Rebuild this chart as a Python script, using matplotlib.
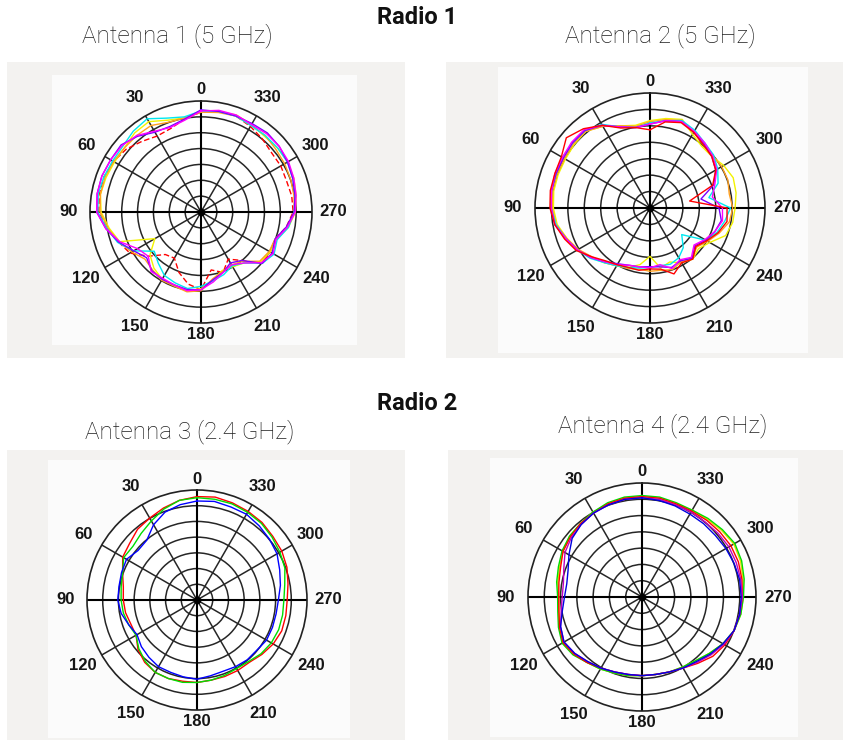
import numpy as np
import matplotlib
matplotlib.use("Agg")
import matplotlib.pyplot as plt
from matplotlib.patches import Rectangle

W, H = 843, 744

# ---------------- data ----------------
ANGLES = list(range(0, 360, 10))          # degrees, counter-clockwise from top
TICK_ANGLES = [0, 30, 60, 90, 120, 150, 180, 210, 240, 270, 300, 330]
TICK_LABELS = ["0", "30", "60", "90", "120", "150", "180", "210", "240", "270", "300", "330"]
N_RINGS = 7

GROUP_TITLES = ["Radio 1", "Radio 2"]
PANEL_TITLES = ["Antenna 1 (5 GHz)", "Antenna 2 (5 GHz)", "Antenna 3 (2.4 GHz)", "Antenna 4 (2.4 GHz)"]

# Antenna 1 (5 GHz) - normalised radius (outer ring = 1)
A1_RED = [0.90,0.85,0.80,0.79,0.83,0.88,0.91,0.93,0.93,0.92,0.86,0.79,0.74,0.62,0.50,0.48,0.58,0.66,
          0.70,0.53,0.58,0.49,0.57,0.72,0.72,0.71,0.78,0.83,0.83,0.82,0.83,0.83,0.86,0.89,0.92,0.92]
A1_YELLOW = [0.90,0.86,0.88,0.94,0.93,0.90,0.90,0.91,0.92,0.90,0.84,0.78,0.48,0.60,0.66,0.70,0.70,0.72,
             0.69,0.62,0.56,0.57,0.60,0.70,0.72,0.72,0.80,0.85,0.87,0.89,0.90,0.90,0.89,0.91,0.93,0.92]
A1_ORANGE = [0.90,0.86,0.86,0.90,0.90,0.90,0.91,0.92,0.92,0.91,0.85,0.79,0.72,0.66,0.68,0.71,0.71,0.73,
             0.71,0.61,0.57,0.55,0.58,0.69,0.71,0.71,0.79,0.84,0.85,0.86,0.87,0.88,0.90,0.90,0.92,0.91]
A1_CYAN = [0.91,0.87,0.90,0.97,0.95,0.92,0.92,0.93,0.94,0.93,0.86,0.80,0.70,0.55,0.60,0.66,0.68,0.70,
           0.67,0.63,0.60,0.56,0.60,0.72,0.76,0.73,0.80,0.84,0.86,0.88,0.90,0.90,0.90,0.90,0.92,0.92]
A1_PURPLE = [0.92,0.85,0.82,0.83,0.89,0.94,0.94,0.95,0.95,0.94,0.87,0.79,0.70,0.64,0.69,0.70,0.70,0.71,
             0.70,0.62,0.58,0.53,0.57,0.72,0.74,0.71,0.78,0.84,0.86,0.88,0.90,0.92,0.93,0.92,0.92,0.92]
A1_MAGENTA = [0.91,0.84,0.81,0.84,0.90,0.93,0.94,0.95,0.95,0.94,0.87,0.78,0.66,0.62,0.70,0.69,0.70,0.72,
              0.70,0.64,0.58,0.55,0.60,0.71,0.75,0.72,0.79,0.85,0.87,0.89,0.91,0.92,0.92,0.91,0.93,0.93]

# Antenna 2 (5 GHz)
A2_RED = [0.68,0.71,0.74,0.83,0.90,0.95,0.89,0.88,0.88,0.87,0.84,0.79,0.74,0.66,0.60,0.57,0.55,0.55,
          0.53,0.54,0.61,0.55,0.58,0.52,0.57,0.63,0.68,0.67,0.35,0.58,0.66,0.70,0.72,0.76,0.79,0.76]
A2_YELLOW = [0.76,0.73,0.76,0.82,0.87,0.86,0.85,0.85,0.85,0.84,0.82,0.77,0.73,0.67,0.62,0.58,0.55,0.50,
             0.42,0.53,0.50,0.55,0.58,0.55,0.60,0.70,0.73,0.74,0.76,0.77,0.74,0.70,0.70,0.74,0.82,0.79]
A2_ORANGE = [0.75,0.72,0.76,0.82,0.87,0.87,0.86,0.86,0.86,0.85,0.83,0.77,0.72,0.66,0.62,0.58,0.56,0.54,
             0.55,0.55,0.57,0.54,0.57,0.53,0.58,0.64,0.70,0.72,0.70,0.72,0.72,0.71,0.72,0.76,0.81,0.78]
A2_CYAN = [0.74,0.71,0.75,0.84,0.88,0.88,0.88,0.87,0.87,0.86,0.83,0.78,0.73,0.68,0.62,0.58,0.55,0.53,
           0.52,0.51,0.52,0.50,0.45,0.36,0.56,0.62,0.66,0.70,0.52,0.63,0.68,0.72,0.74,0.78,0.81,0.77]
A2_PURPLE = [0.73,0.71,0.75,0.83,0.88,0.88,0.87,0.87,0.87,0.86,0.84,0.78,0.73,0.67,0.61,0.56,0.53,0.52,
             0.51,0.52,0.55,0.53,0.57,0.51,0.56,0.60,0.63,0.60,0.45,0.59,0.66,0.70,0.73,0.76,0.80,0.77]
A2_MAGENTA = [0.73,0.71,0.75,0.83,0.89,0.89,0.88,0.88,0.87,0.86,0.84,0.78,0.73,0.67,0.61,0.57,0.53,0.52,
              0.52,0.50,0.56,0.52,0.56,0.50,0.55,0.60,0.64,0.63,0.55,0.60,0.67,0.71,0.74,0.77,0.80,0.77]

# Antenna 3 (2.4 GHz)
A3_RED = [0.94,0.92,0.89,0.86,0.84,0.80,0.78,0.72,0.68,0.67,0.66,0.64,0.64,0.70,0.74,0.76,0.76,0.75,
          0.75,0.74,0.74,0.74,0.74,0.77,0.80,0.82,0.82,0.82,0.84,0.87,0.89,0.90,0.92,0.93,0.94,0.95]
A3_GREEN = [0.93,0.92,0.88,0.83,0.79,0.76,0.77,0.72,0.70,0.69,0.68,0.66,0.64,0.69,0.73,0.76,0.76,0.76,
            0.75,0.74,0.73,0.72,0.73,0.76,0.78,0.79,0.79,0.79,0.81,0.85,0.87,0.89,0.91,0.92,0.93,0.93]
A3_BLUE = [0.90,0.88,0.85,0.79,0.71,0.70,0.74,0.73,0.72,0.72,0.70,0.66,0.63,0.66,0.68,0.70,0.70,0.71,
           0.72,0.70,0.69,0.70,0.71,0.71,0.73,0.73,0.73,0.74,0.77,0.80,0.84,0.86,0.88,0.90,0.90,0.91]

# Antenna 4 (2.4 GHz)
A4_YELLOW = [0.88,0.88,0.87,0.86,0.84,0.83,0.80,0.77,0.75,0.73,0.74,0.77,0.80,0.78,0.75,0.73,0.71,0.70,
             0.69,0.69,0.70,0.71,0.73,0.77,0.82,0.86,0.88,0.89,0.90,0.92,0.93,0.91,0.89,0.88,0.87,0.88]
A4_GREEN = [0.89,0.89,0.88,0.86,0.84,0.83,0.81,0.78,0.76,0.74,0.75,0.78,0.81,0.79,0.75,0.73,0.71,0.70,
            0.69,0.69,0.70,0.71,0.73,0.77,0.82,0.86,0.88,0.89,0.91,0.93,0.94,0.92,0.90,0.88,0.88,0.89]
A4_RED = [0.88,0.88,0.87,0.85,0.84,0.82,0.80,0.76,0.74,0.73,0.74,0.77,0.80,0.78,0.75,0.72,0.70,0.69,
          0.69,0.69,0.70,0.72,0.76,0.81,0.84,0.86,0.87,0.88,0.89,0.90,0.90,0.89,0.88,0.87,0.87,0.88]
A4_MAGENTA = [0.87,0.87,0.86,0.85,0.83,0.81,0.78,0.73,0.70,0.70,0.72,0.76,0.79,0.77,0.74,0.72,0.70,0.69,
              0.69,0.69,0.70,0.72,0.75,0.79,0.83,0.86,0.87,0.88,0.88,0.88,0.88,0.87,0.86,0.86,0.86,0.87]
A4_BLUE = [0.87,0.87,0.86,0.85,0.83,0.80,0.74,0.69,0.67,0.68,0.71,0.76,0.79,0.77,0.74,0.72,0.70,0.69,
           0.69,0.69,0.70,0.72,0.74,0.78,0.82,0.86,0.87,0.87,0.87,0.86,0.85,0.84,0.84,0.84,0.85,0.86]

# ---------------- drawing ----------------
plt.rcParams["font.family"] = ["Liberation Sans", "DejaVu Sans"]
fig = plt.figure(figsize=(W / 100, H / 100), dpi=100)
fig.patch.set_facecolor("white")


def rect(x0, y0, x1, y1, color):
    fig.add_artist(Rectangle((x0 / W, 1 - y1 / H), (x1 - x0) / W, (y1 - y0) / H,
                             transform=fig.transFigure, facecolor=color,
                             edgecolor="none", zorder=0))


def closed(vals):
    th = np.deg2rad(list(ANGLES) + [ANGLES[0]])
    r = list(vals) + [vals[0]]
    return th, r


def polar_panel(cx, cy, R, traces):
    ax = fig.add_axes([(cx - R) / W, 1 - (cy + R) / H, 2 * R / W, 2 * R / H],
                      projection="polar")
    ax.set_theta_zero_location("N")
    ax.set_theta_direction(1)
    ax.set_ylim(0, 1)
    ax.set_facecolor("white")
    ax.set_xticks(np.deg2rad(TICK_ANGLES))
    ax.set_xticklabels([])
    ax.set_yticks([k / N_RINGS for k in range(1, N_RINGS)])
    ax.set_yticklabels([])
    ax.grid(True, color="#262626", linewidth=1.1)
    ax.spines["polar"].set_color("#222222")
    ax.spines["polar"].set_linewidth(1.2)
    ax.tick_params(length=0)
    for a in (0, 90, 180, 270):
        ax.plot(np.deg2rad([a, a]), [0, 1], color="black", lw=1.5, zorder=2)
    ax.plot([0], [0], "o", color="black", ms=4.5, zorder=6)
    for vals, color, ls in traces:
        th, r = closed(vals)
        ax.plot(th, r, color=color, lw=1.0, ls=ls, zorder=4)
    for a, lab in zip(TICK_ANGLES, TICK_LABELS):
        rl = 1.10 if a in (0, 180) else 1.195
        ax.text(np.deg2rad(a), rl, lab, ha="center", va="center", fontsize=12,
                fontweight="bold", color="#151515", clip_on=False,
                family=["Liberation Sans", "DejaVu Sans"])
    return ax


# panel backgrounds
BG = "#f3f2f0"
INNER = "#fbfbfb"
rect(7, 62, 405, 358, BG)
rect(52, 75, 357, 345, INNER)
rect(446, 62, 843, 358, BG)
rect(498, 67, 808, 353, INNER)
rect(7, 450, 405, 740, BG)
rect(48, 460, 350, 738, INNER)
rect(448, 450, 843, 740, BG)
rect(490, 458, 798, 737, INNER)

polar_panel(201, 212, 111, [
    (A1_RED, "#ff0000", (0, (4, 2))),
    (A1_YELLOW, "#f2f200", "-"),
    (A1_ORANGE, "#ffa020", "-"),
    (A1_CYAN, "#00e8f0", "-"),
    (A1_PURPLE, "#7a00ff", "-"),
    (A1_MAGENTA, "#ff00ff", "-"),
])
polar_panel(650, 208, 115, [
    (A2_YELLOW, "#f2f200", "-"),
    (A2_ORANGE, "#ffa020", "-"),
    (A2_CYAN, "#00e8f0", "-"),
    (A2_PURPLE, "#7a00ff", "-"),
    (A2_MAGENTA, "#ff00ff", "-"),
    (A2_RED, "#ff0000", "-"),
])
polar_panel(197, 600, 110, [
    (A3_RED, "#ff0000", "-"),
    (A3_GREEN, "#00dd00", "-"),
    (A3_BLUE, "#0000ff", "-"),
])
polar_panel(642, 597, 114, [
    (A4_YELLOW, "#e8d800", "-"),
    (A4_GREEN, "#00dd00", "-"),
    (A4_RED, "#ff0000", "-"),
    (A4_MAGENTA, "#c000c0", "-"),
    (A4_BLUE, "#0000e0", "-"),
])

TFONT = ["Roboto", "DejaVu Sans"]


def ftext(x, y, s, **kw):
    fig.text(x / W, 1 - y / H, s, ha="center", va="center", **kw)


ftext(417, 18, GROUP_TITLES[0], fontsize=17, fontweight="semibold", family=TFONT, color="#111111")
ftext(417, 403, GROUP_TITLES[1], fontsize=17, fontweight="semibold", family=TFONT, color="#111111")
ftext(177, 36, PANEL_TITLES[0], fontsize=17.5, fontweight="light", family=TFONT, color="#1e1e1e")
ftext(660, 36, PANEL_TITLES[1], fontsize=17.5, fontweight="light", family=TFONT, color="#1e1e1e")
ftext(190, 432, PANEL_TITLES[2], fontsize=17.5, fontweight="light", family=TFONT, color="#1e1e1e")
ftext(663, 426, PANEL_TITLES[3], fontsize=17.5, fontweight="light", family=TFONT, color="#1e1e1e")

fig.savefig("out.png", dpi=100, facecolor=fig.get_facecolor())
